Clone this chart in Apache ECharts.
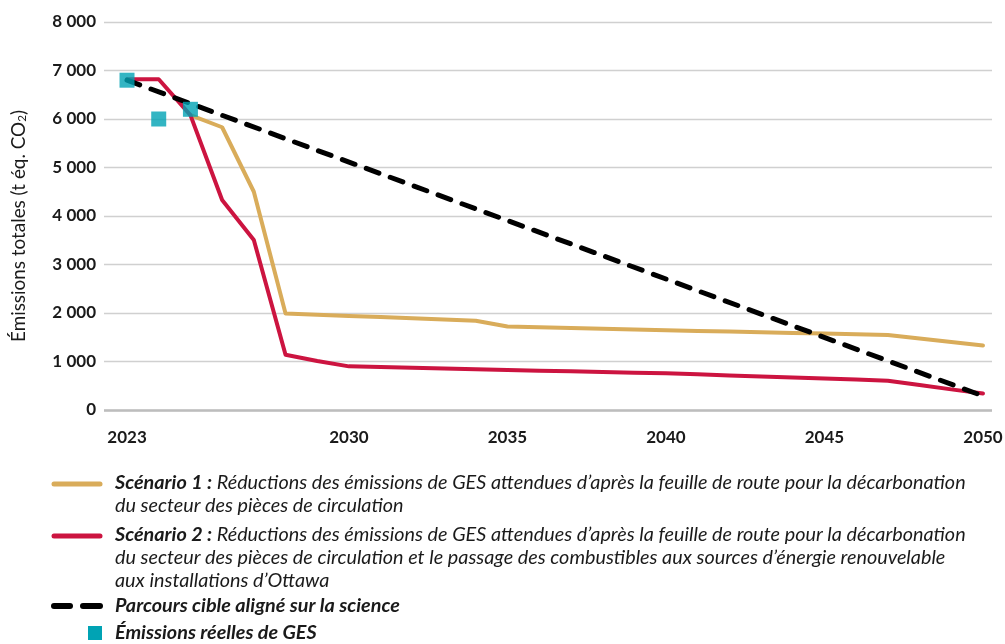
<!DOCTYPE html>
<html><head><meta charset="utf-8">
<script src="https://cdn.jsdelivr.net/npm/echarts@6/dist/echarts.min.js"></script>
<style>html,body{margin:0;padding:0;background:#fff}#c{width:1005px;height:644px}</style>
</head><body><div id="c"></div>
<script>
// ---- Data ----
const years = [2023, 2024, 2025, 2026, 2027, 2028, 2029, 2030, 2031, 2032, 2033, 2034, 2035, 2036,
               2037, 2038, 2039, 2040, 2041, 2042, 2043, 2044, 2045, 2046, 2047, 2048, 2049, 2050];
const scenario1 = [null, null, 6080, 5830, 4500, 1990, 1965, 1940, 1915, 1890, 1865, 1840, 1720, 1705,
                   1690, 1675, 1660, 1645, 1630, 1620, 1605, 1590, 1575, 1560, 1546, 1473, 1400, 1328];
const scenario2 = [6820, 6820, 6080, 4330, 3505, 1140, 1010, 900, 885, 870, 855, 840, 825, 811,
                   797, 783, 770, 756, 735, 713, 692, 670, 648, 627, 605, 515, 425, 340];
const targetYears = [2023, 2050];
const targetValues = [6800, 290];
const actualYears = [2023, 2024, 2025];
const actualValues = [6800, 6000, 6200];
const xTickYears = [2023, 2030, 2035, 2040, 2045, 2050];
const yTickStep = 1000;
const yMax = 8000;

const seriesNames = [
  'Scénario 1',
  'Scénario 2',
  'Parcours cible aligné sur la science',
  'Émissions réelles de GES'
];
const legendBold = ['Scénario 1 :', 'Scénario 2 :'];
const legendRest = [
  [' Réductions des émissions de GES attendues d’après la feuille de route pour la décarbonation',
   'du secteur des pièces de circulation'],
  [' Réductions des émissions de GES attendues d’après la feuille de route pour la décarbonation',
   'du secteur des pièces de circulation et le passage des combustibles aux sources d’énergie renouvelable',
   'aux installations d’Ottawa']
];
const yAxisTitle = ['Émissions totales (t éq. CO', '2', ')'];

// ---- Colours / fonts ----
const GOLD = '#D9AC5A', RED = '#CC1440', TEAL = '#00A3B4', INK = '#1a1a1a';
const FONT = 'Lato';
const NAMEFONT = 'Lato';

const ctx = document.createElement('canvas').getContext('2d');
function tw(font, s) { ctx.font = font; return ctx.measureText(s).width; }
// fit the legend text so its first line spans the same width as the original
const w16 = tw(`italic bold 16px ${FONT}`, legendBold[0]) + tw(`italic 16px ${FONT}`, legendRest[0][0]);
const LEG = Math.max(14, Math.min(21, 16 * 851 / w16));
// fit the axis title
const n16 = tw(`16px ${NAMEFONT}`, yAxisTitle[0] + yAxisTitle[2]) + tw(`10px ${NAMEFONT}`, yAxisTitle[1]);
const NAME = Math.max(14, Math.min(20, 16 * 232 / n16));

const pairs = (xs, ys) => xs.map((x, i) => [x, ys[i]]).filter(p => p[1] != null);

const legendText = (bold, lines, y) => ({
  type: 'text', left: 115, top: y,
  style: {
    text: '{b|' + bold + '}{r|' + lines[0] + '}' + lines.slice(1).map(l => '\n{r|' + l + '}').join(''),
    rich: {
      b: { fontFamily: FONT, fontStyle: 'italic', fontWeight: 'bold', fontSize: LEG, fill: INK, lineHeight: 23 },
      r: { fontFamily: FONT, fontStyle: 'italic', fontSize: LEG, fill: INK, lineHeight: 23 }
    }
  }
});
const legendPlain = (txt, y) => ({
  type: 'text', left: 115, top: y,
  style: { text: txt, fontFamily: FONT, fontStyle: 'italic', fontWeight: 'bold', fontSize: LEG, fill: INK, lineHeight: 23 }
});

const chart = echarts.init(document.getElementById('c'), null, { renderer: 'canvas' });
chart.setOption({
  animation: false,
  backgroundColor: '#fff',
  grid: { left: 104, right: 13, top: 22, bottom: 234, containLabel: false, outerBoundsMode: 'none' },
  xAxis: {
    type: 'value', min: 2022.274, max: 2050.284,
    axisLine: { show: false }, axisTick: { show: false }, splitLine: { show: false },
    axisLabel: {
      customValues: xTickYears, margin: 19,
      fontFamily: FONT, fontWeight: 'bold', fontSize: 17, color: INK,
      formatter: v => String(Math.round(v))
    }
  },
  yAxis: {
    type: 'value', min: 0, max: yMax, interval: yTickStep,
    name: yAxisTitle[0] + '{s|' + yAxisTitle[1] + '}' + yAxisTitle[2],
    nameLocation: 'middle', nameRotate: 90, nameGap: 76,
    nameTextStyle: {
      fontFamily: NAMEFONT, fontSize: NAME, color: INK, padding: [0, 20, 0, 0],
      rich: { s: { fontFamily: NAMEFONT, fontSize: NAME * 0.62, color: INK, verticalAlign: 'bottom', padding: [7, 0, 0, 0] } }
    },
    axisLine: { show: false }, axisTick: { show: false },
    splitLine: { lineStyle: { color: '#d0d0d0', width: 1.3 } },
    axisLabel: {
      margin: 8, fontFamily: FONT, fontWeight: 'bold', fontSize: 17, color: INK,
      formatter: v => v >= 1000 ? Math.floor(v / 1000) + '\u2005' + String(v % 1000).padStart(3, '0') : String(v)
    }
  },
  series: [
    {
      name: seriesNames[0], type: 'line', data: pairs(years, scenario1), showSymbol: false, z: 2,
      lineStyle: { color: GOLD, width: 4, cap: 'round', join: 'round' }
    },
    {
      name: seriesNames[1], type: 'line', data: pairs(years, scenario2), showSymbol: false, z: 3,
      lineStyle: { color: RED, width: 4, cap: 'round', join: 'round' }
    },
    {
      name: seriesNames[2], type: 'line', data: pairs(targetYears, targetValues), showSymbol: false, z: 4,
      lineStyle: { color: '#000', width: 5, type: [13.5, 12], cap: 'round', join: 'round' }
    },
    {
      name: seriesNames[3], type: 'scatter', data: pairs(actualYears, actualValues), z: 5,
      symbol: 'rect', symbolSize: 15, itemStyle: { color: TEAL }
    },
    {
      type: 'line', data: [], silent: true, z: 1,
      markLine: {
        silent: true, symbol: 'none', label: { show: false },
        lineStyle: { color: '#bdbdbd', width: 2.5, type: 'solid' },
        data: [{ yAxis: 0 }]
      }
    }
  ],
  graphic: [
    { type: 'line', shape: { x1: 54, y1: 484, x2: 100, y2: 484 }, style: { stroke: GOLD, lineWidth: 5, lineCap: 'round' } },
    legendText(legendBold[0], legendRest[0], 484 - 11.5),
    { type: 'line', shape: { x1: 54, y1: 536, x2: 100, y2: 536 }, style: { stroke: RED, lineWidth: 5, lineCap: 'round' } },
    legendText(legendBold[1], legendRest[1], 536 - 11.5),
    { type: 'line', shape: { x1: 54, y1: 606, x2: 70, y2: 606 }, style: { stroke: '#000', lineWidth: 6, lineCap: 'round' } },
    { type: 'line', shape: { x1: 83, y1: 606, x2: 100, y2: 606 }, style: { stroke: '#000', lineWidth: 6, lineCap: 'round' } },
    legendPlain(seriesNames[2], 606 - 11.5),
    { type: 'rect', shape: { x: 88, y: 626, width: 14, height: 14 }, style: { fill: TEAL } },
    legendPlain(seriesNames[3], 633 - 11.5)
  ]
});
</script></body></html>
